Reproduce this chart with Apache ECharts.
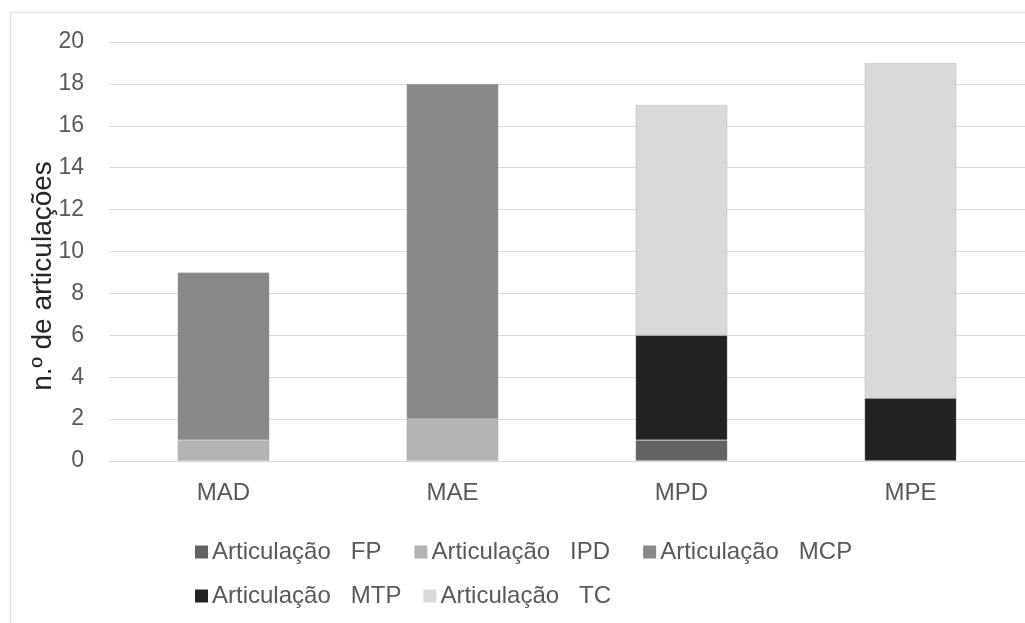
<!DOCTYPE html>
<html>
<head>
<meta charset="utf-8">
<script src="https://cdn.jsdelivr.net/npm/echarts@6/dist/echarts.min.js"></script>
<style>
  html, body { margin: 0; padding: 0; background: #fff; }
  #chart { width: 1025px; height: 623px; }
</style>
</head>
<body>
<div id="chart"></div>
<script>
// Joint counts per group, stacked by joint type
const categories = ['MAD', 'MAE', 'MPD', 'MPE'];
const seriesNames = ['Articulação   FP', 'Articulação   IPD', 'Articulação   MCP', 'Articulação   MTP', 'Articulação   TC'];
const fpValues  = [0, 0, 1, 0];
const ipdValues = [1, 2, 0, 0];
const mcpValues = [8, 16, 0, 0];
const mtpValues = [0, 0, 5, 3];
const tcValues  = [0, 0, 11, 16];
const seriesColors = ['#636363', '#b3b3b3', '#898989', '#222222', '#d9d9d9'];
const yTicks = [0, 2, 4, 6, 8, 10, 12, 14, 16, 18, 20];

const values = [fpValues, ipdValues, mcpValues, mtpValues, tcValues];
const font = 'Liberation Sans, Arial, sans-serif';

const chart = echarts.init(document.getElementById('chart'));

const series = seriesNames.map((name, i) => ({
  name: name,
  type: 'bar',
  stack: 'total',
  barWidth: 92,
  data: values[i].map(v => (v === 0 ? null : v)),
  itemStyle: { color: seriesColors[i], borderColor: 'rgba(160,160,160,0.35)', borderWidth: 0.8 },
  emphasis: { disabled: true }
}));

const legendCommon = {
  icon: 'rect',
  itemWidth: 13,
  itemHeight: 13,
  itemStyle: { borderWidth: 0 },
  textStyle: { fontFamily: font, fontSize: 24, color: '#595959', padding: [0, 0, 0, -1] },
  orient: 'horizontal'
};

chart.setOption({
  animation: false,
  backgroundColor: '#fff',
  grid: { left: 109, top: 42, width: 930, height: 419, containLabel: false },
  xAxis: {
    type: 'category',
    data: categories,
    axisLine: { show: true, lineStyle: { color: '#d9d9d9', width: 1 } },
    axisTick: { show: false },
    axisLabel: { fontFamily: font, fontSize: 24, color: '#595959', margin: 20 }
  },
  yAxis: {
    type: 'value',
    min: yTicks[0],
    max: yTicks[yTicks.length - 1],
    interval: 2,
    axisLine: { show: false },
    axisTick: { show: false },
    axisLabel: { fontFamily: font, fontSize: 23, color: '#595959', margin: 25 },
    splitLine: { lineStyle: { color: '#d9d9d9', width: 1 } }
  },
  legend: [
    Object.assign({}, legendCommon, { data: seriesNames.slice(0, 3), left: 190, top: 535, itemGap: 33 }),
    Object.assign({}, legendCommon, { data: seriesNames.slice(3), left: 190, top: 579, itemGap: 22 })
  ],
  graphic: [
    {
      type: 'rect',
      left: 8, top: 10,
      shape: { width: 1100, height: 700 },
      style: { fill: 'none', stroke: '#e3e3e3', lineWidth: 1.5 },
      silent: true,
      z: -1
    },
    {
      type: 'text',
      x: 43, y: 276,
      rotation: Math.PI / 2,
      style: {
        text: 'n.º de articulações',
        font: '28px ' + font,
        fill: '#262626',
        align: 'center',
        verticalAlign: 'middle'
      },
      silent: true
    }
  ],
  series: series
});
</script>
</body>
</html>
